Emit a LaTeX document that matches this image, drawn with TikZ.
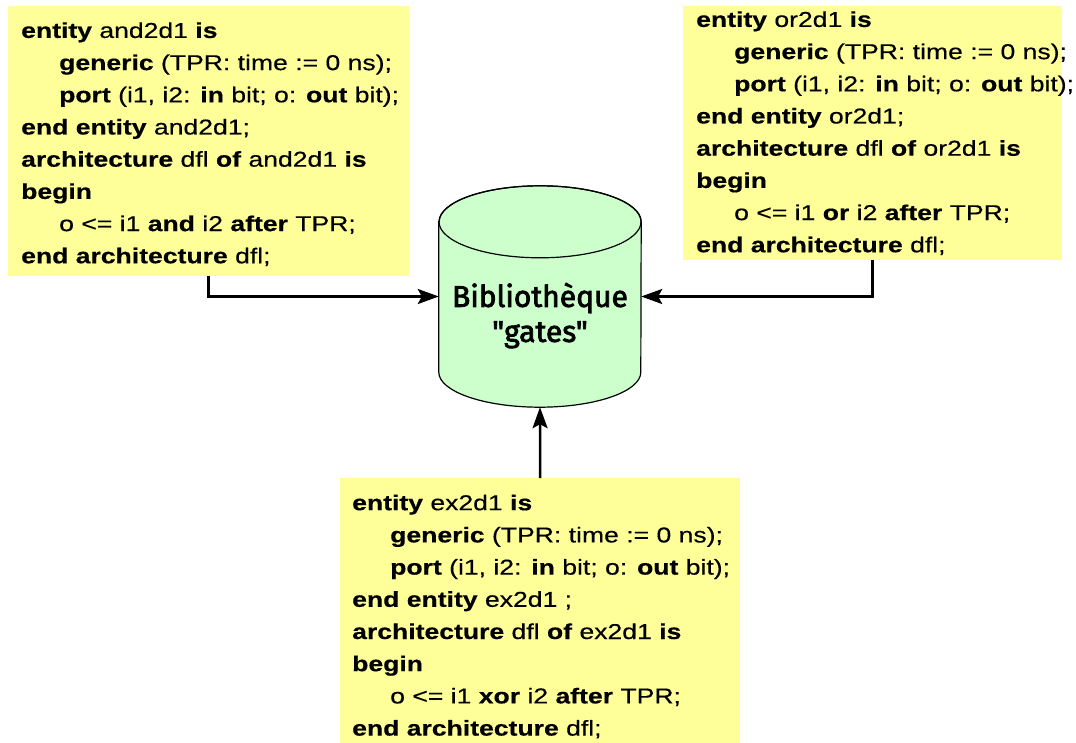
\documentclass[tikz,border=0pt]{standalone}
\usepackage{fontspec}
\setmainfont{Liberation Sans}[FakeStretch=1.235, FakeBold=0.4]
\newfontfamily\libfont{Fira Sans}[FakeBold=2.5]
\usetikzlibrary{arrows.meta}
\definecolor{codebg}{RGB}{255,255,153}
\definecolor{libfill}{RGB}{204,255,204}
\begin{document}
\begin{tikzpicture}[x=1pt,y=-1pt,
  codebox/.style={fill=codebg, draw=none, anchor=north west, inner sep=0pt},
  codetext/.style={anchor=north west, align=left, inner sep=0pt,
    font=\fontsize{21.5}{32.2}\selectfont},
  arr/.style={line width=2.5pt, -{Stealth[length=21pt,width=15pt,inset=4pt]}},
  cyl/.style={fill=libfill, draw=black, line width=1.2pt}]
\useasboundingbox (0,0) rectangle (1076,743);
\newcommand{\ind}{\hspace*{38pt}}
\newcommand{\firstline}{\rule{0pt}{17pt}}

% code boxes
\node[codebox, minimum width=401, minimum height=270] (andbox) at (8,6) {};
\node[codebox, minimum width=379, minimum height=254] (orbox) at (683,6) {};
\node[codebox, minimum width=400, minimum height=265] (exbox) at (340,478) {};

\node[codetext] (andtxt) at (21,20.7) {\firstline\textbf{entity} and2d1 \textbf{is}\\
\ind\textbf{generic} (TPR: time := 0 ns);\\
\ind\textbf{port} (i1, i2: \textbf{in} bit; o: \textbf{out} bit);\\
\textbf{end entity} and2d1;\\
\textbf{architecture} dfl \textbf{of} and2d1 \textbf{is}\\
\textbf{begin}\\
\ind o <= i1 \textbf{and} i2 \textbf{after} TPR;\\
\textbf{end architecture} dfl;};

\node[codetext] (ortxt) at (696,9.7) {\firstline\textbf{entity} or2d1 \textbf{is}\\
\ind\textbf{generic} (TPR: time := 0 ns);\\
\ind\textbf{port} (i1, i2: \textbf{in} bit; o: \textbf{out} bit);\\
\textbf{end entity} or2d1;\\
\textbf{architecture} dfl \textbf{of} or2d1 \textbf{is}\\
\textbf{begin}\\
\ind o <= i1 \textbf{or} i2 \textbf{after} TPR;\\
\textbf{end architecture} dfl;};

\node[codetext] (extxt) at (352,493) {\firstline\textbf{entity} ex2d1 \textbf{is}\\
\ind\textbf{generic} (TPR: time := 0 ns);\\
\ind\textbf{port} (i1, i2: \textbf{in} bit; o: \textbf{out} bit);\\
\textbf{end entity} ex2d1 ;\\
\textbf{architecture} dfl \textbf{of} ex2d1 \textbf{is}\\
\textbf{begin}\\
\ind o <= i1 \textbf{xor} i2 \textbf{after} TPR;\\
\textbf{end architecture} dfl;};

% library cylinder
\node[draw=none, inner sep=0pt, minimum width=202, minimum height=221] (lib) at (540,296.5) {};
\draw[cyl] ([yshift=-36pt]lib.north west) -- ([yshift=35pt]lib.south west)
  arc[start angle=180, end angle=360, x radius=101pt, y radius=35pt]
  -- ([yshift=-36pt]lib.north east)
  arc[start angle=0, end angle=180, x radius=101pt, y radius=36pt] -- cycle;
\draw[line width=1.2pt] ([yshift=-36pt]lib.north) ellipse [x radius=101pt, y radius=36pt];
\node[anchor=north, align=center, inner sep=0pt,
  font=\libfont\fontsize{30}{35}\selectfont] (libtxt) at (540,281.7)
  {\rule{0pt}{25pt}Bibliothèque\\"gates"};

% connectors
\draw[arr] (andbox.south) |- (lib.west);
\draw[arr] (orbox.south) |- (lib.east);
\draw[arr] (exbox.north) -- (lib.south);
\end{tikzpicture}
\end{document}
